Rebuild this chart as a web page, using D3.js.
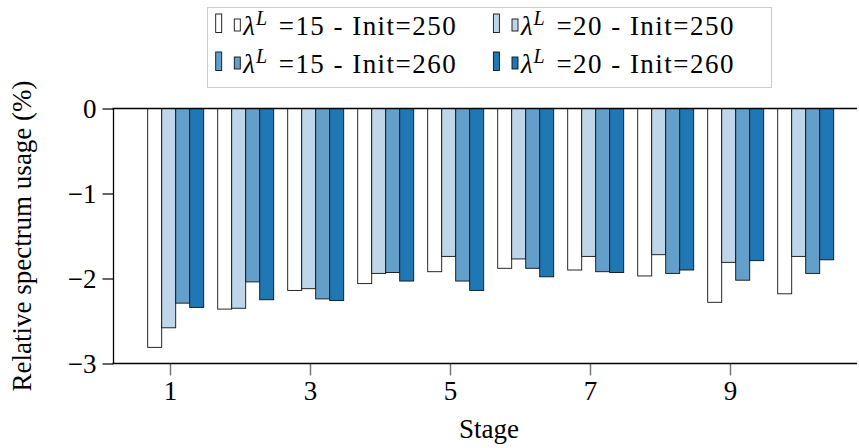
<!DOCTYPE html>
<html>
<head>
<meta charset="utf-8">
<script src="https://cdn.jsdelivr.net/npm/d3@7"></script>
<style>
  body { margin: 0; background: #fff; }
</style>
</head>
<body>
<div id="chart"></div>
<script>
const stages = [1, 2, 3, 4, 5, 6, 7, 8, 9, 10];
const xTicks = [1, 3, 5, 7, 9];
const yTicks = [0, -1, -2, -3];

const seriesKeys = ["l15i250", "l20i250", "l15i260", "l20i260"];
const lambdaVals = ["15", "20", "15", "20"];
const initVals = ["250", "250", "260", "260"];

const l15i250 = [-2.81, -2.36, -2.14, -2.06, -1.92, -1.88, -1.90, -1.97, -2.28, -2.18];
const l20i250 = [-2.58, -2.35, -2.12, -1.94, -1.74, -1.77, -1.74, -1.72, -1.81, -1.74];
const l15i260 = [-2.29, -2.04, -2.24, -1.93, -2.03, -1.88, -1.92, -1.94, -2.02, -1.94];
const l20i260 = [-2.34, -2.25, -2.26, -2.03, -2.14, -1.98, -1.93, -1.90, -1.79, -1.78];

const seriesValues = [l15i250, l20i250, l15i260, l20i260];
const colors = ["#ffffff", "#bfd5e8", "#62a0cb", "#1f77b4"];

const W = 859, H = 448;
const margin = { left: 113.5, right: 2, top: 108.5, bottom: 84.5 };
const FONT = "Liberation Serif";
const FS = 27;

const svg = d3.select("#chart").append("svg")
  .attr("width", W).attr("height", H)
  .attr("font-family", FONT);

const x = d3.scaleLinear().domain([1, 10]).range([170, 800]);
const y = d3.scaleLinear().domain([0, -3]).range([margin.top, H - margin.bottom]);
const inner = d3.scaleBand().domain(seriesKeys).range([-22.3, 33.7]);

// bars
seriesKeys.forEach((k, si) => {
  svg.append("g")
    .selectAll("rect")
    .data(stages.map((s, i) => ({ s, v: seriesValues[si][i] })))
    .enter()
    .append("rect")
    .attr("x", d => x(d.s) + inner(k))
    .attr("y", y(0))
    .attr("width", inner.bandwidth())
    .attr("height", d => y(d.v) - y(0))
    .attr("fill", colors[si])
    .attr("stroke", "#111")
    .attr("stroke-width", 0.9);
});

// axes
const yAxis = d3.axisLeft(y).tickValues(yTicks).tickSize(11).tickPadding(6)
  .tickFormat(d => d === 0 ? "0" : "\u2212" + Math.abs(d));
const gy = svg.append("g").attr("transform", `translate(${margin.left},0)`).call(yAxis);
gy.attr("font-family", FONT);
gy.select(".domain").remove();
gy.selectAll("line").attr("stroke", "#000").attr("stroke-width", 1.2);
gy.selectAll("text").attr("font-size", FS).attr("fill", "#000").attr("font-family", FONT);

const xAxis = d3.axisBottom(x).tickValues(xTicks).tickSize(12).tickPadding(5);
const gx = svg.append("g").attr("transform", `translate(0,${y(-3)})`).call(xAxis);
gx.attr("font-family", FONT);
gx.select(".domain").remove();
gx.selectAll("line").attr("stroke", "#777").attr("stroke-width", 1.5);
gx.selectAll("text").attr("font-size", FS).attr("fill", "#000").attr("font-family", FONT);

// axis lines
svg.append("line").attr("x1", margin.left).attr("x2", margin.left)
  .attr("y1", y(0)).attr("y2", y(-3)).attr("stroke", "#000").attr("stroke-width", 1.3);
[0, -3].forEach(v => {
  svg.append("line").attr("x1", margin.left - 1).attr("x2", W - margin.right)
    .attr("y1", y(v)).attr("y2", y(v)).attr("stroke", "#000").attr("stroke-width", 1.3);
});

// axis labels
svg.append("text")
  .attr("x", 489).attr("y", 438)
  .attr("text-anchor", "middle").attr("font-size", FS).attr("font-family", FONT)
  .text("Stage");

svg.append("text")
  .attr("transform", `translate(31,${(y(0) + y(-3)) / 2}) rotate(-90)`)
  .attr("text-anchor", "middle").attr("font-size", FS).attr("font-family", FONT)
  .text("Relative spectrum usage (%)");

// legend
const legend = svg.append("g");
legend.append("rect")
  .attr("x", 207.5).attr("y", 7.5).attr("width", 564).attr("height", 80)
  .attr("fill", "#fff").attr("stroke", "#ccc").attr("stroke-width", 1);

const colX = [215.7, 493.4];
const rowY = [14, 52];
seriesKeys.forEach((k, i) => {
  const cx = colX[i % 2], ry = rowY[Math.floor(i / 2)];
  const g = legend.append("g").attr("transform", `translate(${cx},${ry})`);
  g.append("rect").attr("x", 0).attr("y", 0).attr("width", 6).attr("height", 18.5)
    .attr("fill", colors[i]).attr("stroke", "#111").attr("stroke-width", 0.9);
  g.append("rect").attr("x", 18.6).attr("y", 5).attr("width", 6).attr("height", 12)
    .attr("fill", colors[i]).attr("stroke", "#111").attr("stroke-width", 0.9);
  const t = g.append("text").attr("x", 27.5).attr("y", 20.5)
    .attr("font-size", FS).attr("font-family", FONT);
  t.append("tspan").attr("font-style", "italic").text("\u03bb");
  t.append("tspan").attr("font-style", "italic").attr("font-size", 20)
    .attr("dx", 1).attr("dy", -10).text("L");
  g.append("text").attr("x", 63).attr("y", 20.5)
    .attr("font-size", FS).attr("font-family", FONT)
    .attr("textLength", 177).attr("lengthAdjust", "spacing")
    .text("=" + lambdaVals[i] + " - Init=" + initVals[i]);
});
</script>
</body>
</html>
